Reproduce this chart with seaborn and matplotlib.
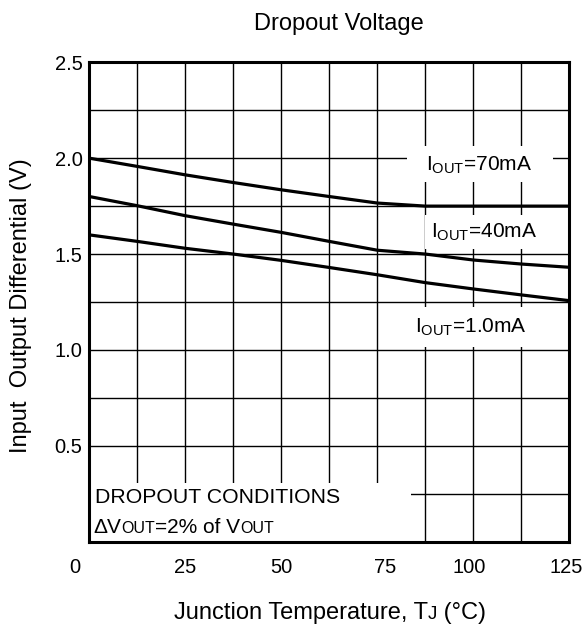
import numpy as np
import pandas as pd
import matplotlib
matplotlib.use("Agg")
import matplotlib.pyplot as plt
import matplotlib.transforms as mtransforms
import seaborn as sns
from matplotlib.ticker import MultipleLocator, FixedLocator
from matplotlib.patches import Rectangle
from matplotlib.offsetbox import TextArea, HPacker, AnchoredOffsetbox

# ---------------- data ----------------
temperature = [0, 12.5, 25, 37.5, 50, 62.5, 75, 87.5, 100, 112.5, 125]
dropout_70mA = [2.00, 1.957, 1.913, 1.873, 1.835, 1.800, 1.766, 1.750, 1.750, 1.750, 1.750]
dropout_40mA = [1.80, 1.752, 1.700, 1.656, 1.613, 1.566, 1.520, 1.500, 1.469, 1.448, 1.431]
dropout_1mA = [1.60, 1.566, 1.530, 1.500, 1.467, 1.430, 1.392, 1.351, 1.318, 1.287, 1.257]
series_names = ["70mA", "40mA", "1.0mA"]
x_ticks = [0, 25, 50, 75, 100, 125]
x_tick_labels = ["0", "25", "50", "75", "100", "125"]
y_ticks = [0.5, 1.0, 1.5, 2.0, 2.5]
y_tick_labels = ["0.5", "1.0", "1.5", "2.0", "2.5"]

df = pd.concat([
    pd.DataFrame({"T": temperature, "V": vals, "I": name})
    for name, vals in zip(series_names, [dropout_70mA, dropout_40mA, dropout_1mA])
])

sns.set_theme(style="white")
plt.rcParams["font.family"] = ["Liberation Sans", "DejaVu Sans"]
plt.rcParams["mathtext.fontset"] = "custom"
plt.rcParams["mathtext.rm"] = "Liberation Sans"
plt.rcParams["mathtext.it"] = "Liberation Sans"
plt.rcParams["mathtext.default"] = "regular"
plt.rcParams["text.color"] = "black"
plt.rcParams["axes.labelcolor"] = "black"
plt.rcParams["xtick.color"] = "black"
plt.rcParams["ytick.color"] = "black"

FS_TICK = 14.5
FS_ANN = 15
FS_LAB = 17
fig = plt.figure(figsize=(5.85, 6.33), dpi=100)
ax = fig.add_axes([0.1527, 0.1442, 0.8205, 0.7574])

sns.lineplot(data=df, x="T", y="V", hue="I", palette=["black"] * 3,
             linewidth=2.3, legend=False, ax=ax, zorder=3)

ax.set_xlim(0, 125)
ax.set_ylim(0, 2.5)
ax.xaxis.set_major_locator(FixedLocator(x_ticks))
ax.set_xticklabels(x_tick_labels)
ax.xaxis.set_minor_locator(MultipleLocator(12.5))
ax.yaxis.set_major_locator(FixedLocator(y_ticks))
ax.set_yticklabels(y_tick_labels)
ax.yaxis.set_minor_locator(MultipleLocator(0.25))
ax.grid(True, which="both", color="black", linewidth=1.0)
ax.set_axisbelow(True)
ax.tick_params(which="both", direction="in", length=3, width=1, color="black",
               labelsize=FS_TICK, labelcolor="black")
ax.tick_params(axis="x", pad=12)
ax.tick_params(axis="y", pad=5)
for sp in ax.spines.values():
    sp.set_color("black")
    sp.set_linewidth(2.2)
ax.set_xlabel("")
ax.set_ylabel("")

# small label offsets (pixels)
x_offsets = [-15, 0, 0, 8, -4, -3]
for lab, off in zip(ax.get_xticklabels(), x_offsets):
    lab.set_transform(lab.get_transform() + mtransforms.ScaledTranslation(off / 100, 0, fig.dpi_scale_trans))

# white areas under the labels
ax.add_patch(Rectangle((0.661, 0.750), 0.305, 0.075, transform=ax.transAxes,
                       facecolor="white", edgecolor="none", zorder=2))
ax.text(101.5, 1.965, r"I$_{OUT}$=70mA", fontsize=FS_ANN, ha="center", va="center",
        zorder=4)
ax.text(102.8, 1.615, r"I$_{OUT}$=40mA", fontsize=FS_ANN, ha="center", va="center",
        zorder=4, bbox=dict(facecolor="white", edgecolor="none", boxstyle="square,pad=0.3"))
ax.text(99.5, 1.12, r"I$_{OUT}$=1.0mA", fontsize=FS_ANN, ha="center", va="center",
        zorder=4, bbox=dict(facecolor="white", edgecolor="none", boxstyle="square,pad=0.45"))

ax.add_patch(Rectangle((0, 0), 0.67, 0.123, transform=ax.transAxes,
                       facecolor="white", edgecolor="none", zorder=2))
ax.text(0.012, 0.093, "DROPOUT CONDITIONS", transform=ax.transAxes, fontsize=15.3,
        ha="left", va="center", zorder=4)

small = 11.5
parts = [("\u0394V", FS_ANN), ("OUT", small), ("=2% of V", FS_ANN), ("OUT", small)]
box = HPacker(children=[TextArea(t, textprops=dict(fontsize=s, color="black")) for t, s in parts],
              align="baseline", pad=0, sep=0)
ab = AnchoredOffsetbox(loc="lower left", child=box, frameon=False,
                       bbox_to_anchor=(0.008, 0.01), bbox_transform=ax.transAxes,
                       borderpad=0, pad=0)
ab.set_zorder(4)
ax.add_artist(ab)

fig.text(339 / 585, 1 - 30 / 633, "Dropout Voltage", fontsize=FS_LAB, ha="center", va="baseline")

xparts = [("Junction Temperature, T", FS_LAB), ("J", 13.5), (" (\u00b0C)", FS_LAB)]
xbox = HPacker(children=[TextArea(t, textprops=dict(fontsize=s, color="black")) for t, s in xparts],
               align="baseline", pad=0, sep=0)
xab = AnchoredOffsetbox(loc="center", child=xbox, frameon=False,
                        bbox_to_anchor=(330 / 585, 1 - 613 / 633), bbox_transform=fig.transFigure,
                        borderpad=0, pad=0)
fig.add_artist(xab)

fig.text(21 / 585, 1 - 306 / 633, "Input  Output Differential (V)", fontsize=FS_LAB,
         ha="center", va="center", rotation=90)

fig.savefig("out.png", dpi=100, facecolor="white")
